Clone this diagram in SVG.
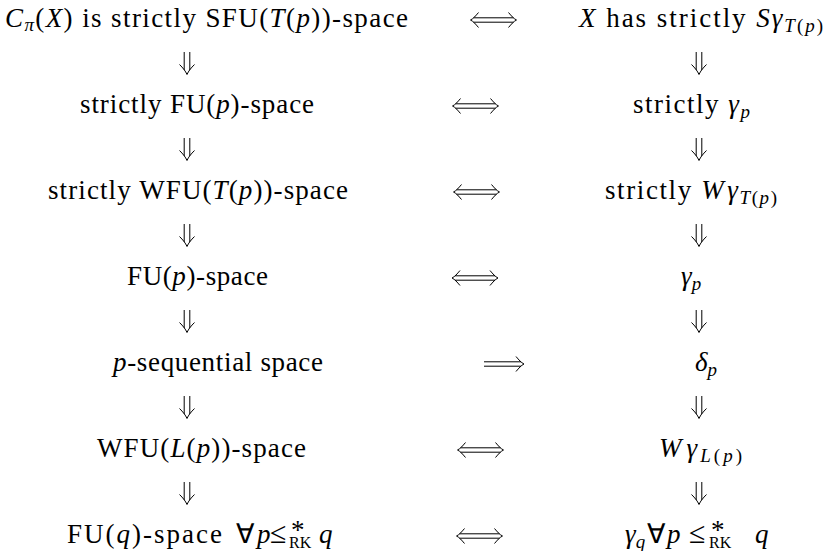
<svg xmlns="http://www.w3.org/2000/svg" xmlns:xlink="http://www.w3.org/1999/xlink" width="826" height="551" viewBox="0 0 826 551">
<style>
text { font-family: "Liberation Serif", serif; font-size: 27px; fill: #000; }
.i { font-style: italic; }
.sb { font-size: 19px; }
.rk { font-size: 16px; }
.le { font-size: 30px; }
.a { fill: none; stroke: #000; stroke-width: 1; stroke-linecap: butt; }
</style>
<defs>
  <g id="down">
    <path class="a" d="M -2.8,-11 V 7 M 2.8,-11 V 7"/>
    <path class="a" d="M -7.5,1.5 C -4,5 -1.5,8 0,11.5 C 1.5,8 4,5 7.5,1.5"/>
  </g>
  <g id="iff">
    <path class="a" d="M -20,-2.2 H 20 M -20,2.2 H 20"/>
    <path class="a" d="M -15,-7.5 C -18,-4 -20,-1.5 -23,0 C -20,1.5 -18,4 -15,7.5"/>
    <path class="a" d="M 15,-7.5 C 18,-4 20,-1.5 23,0 C 20,1.5 18,4 15,7.5"/>
  </g>
  <g id="imp">
    <path class="a" d="M -20,-2.2 H 17 M -20,2.2 H 17"/>
    <path class="a" d="M 12,-7.5 C 15,-4 17,-1.5 20,0 C 17,1.5 15,4 12,7.5"/>
  </g>
</defs>
<rect width="826" height="551" fill="#fff"/>

<g id="L1"><text x="5" y="27" textLength="403"><tspan class="i">C</tspan><tspan class="i sb" dy="4">π</tspan><tspan dy="-4">(</tspan><tspan class="i">X</tspan>) is strictly SFU(<tspan class="i">T</tspan>(<tspan class="i">p</tspan>))-space</text></g>
<g id="L2"><text x="80" y="113" textLength="234">strictly FU(<tspan class="i">p</tspan>)-space</text></g>
<g id="L3"><text x="48" y="199" textLength="300">strictly WFU(<tspan class="i">T</tspan>(<tspan class="i">p</tspan>))-space</text></g>
<g id="L4"><text x="127" y="285" textLength="141">FU(<tspan class="i">p</tspan>)-space</text></g>
<g id="L5"><text x="113" y="371" textLength="210"><tspan class="i">p</tspan>-sequential space</text></g>
<g id="L6"><text x="97" y="457" textLength="209">WFU(<tspan class="i">L</tspan>(<tspan class="i">p</tspan>))-space</text></g>
<g id="L7">
  <text x="67" y="543" textLength="155">FU(<tspan class="i">q</tspan>)-space</text>
  <text x="236" y="543">∀</text>
  <text class="i" x="257" y="543">p</text>
  <text class="le" x="270" y="543">≤</text>
  <text x="291" y="539" font-size="19">*</text>
  <text class="rk" x="289" y="548">RK</text>
  <text class="i" x="319" y="543">q</text>
</g>

<g id="R1"><text x="579" y="27" textLength="244"><tspan class="i">X</tspan> has strictly <tspan class="i">Sγ</tspan><tspan class="sb" dy="5"><tspan class="i">T</tspan>(<tspan class="i">p</tspan>)</tspan></text></g>
<g id="R2"><text x="633" y="113" textLength="117">strictly <tspan class="i">γ</tspan><tspan class="i sb" dy="5">p</tspan></text></g>
<g id="R3"><text x="605" y="199" textLength="172">strictly <tspan class="i">W</tspan><tspan class="i" dx="2">γ</tspan><tspan class="sb" dy="5"><tspan class="i">T</tspan>(<tspan class="i">p</tspan>)</tspan></text></g>
<g id="R4"><text x="681" y="285"><tspan class="i">γ</tspan><tspan class="i sb" dy="5">p</tspan></text></g>
<g id="R5"><text x="695" y="371"><tspan class="i">δ</tspan><tspan class="i sb" dy="5">p</tspan></text></g>
<g id="R6"><text x="659" y="457" textLength="83"><tspan class="i">W</tspan><tspan class="i" dx="2">γ</tspan><tspan class="sb" dy="5"><tspan class="i">L</tspan>(<tspan class="i">p</tspan>)</tspan></text></g>
<g id="R7">
  <text x="625" y="543"><tspan class="i">γ</tspan><tspan class="i sb" dy="5">q</tspan></text>
  <text x="647" y="543">∀</text>
  <text class="i" x="667" y="543">p</text>
  <text class="le" x="689" y="543">≤</text>
  <text x="711" y="539" font-size="19">*</text>
  <text class="rk" x="709" y="548">RK</text>
  <text class="i" x="755" y="543">q</text>
</g>

<g id="connectors">
  <use xlink:href="#iff" transform="translate(493.5,20)"/>
  <use xlink:href="#iff" transform="translate(475.5,106)"/>
  <use xlink:href="#iff" transform="translate(476.5,192)"/>
  <use xlink:href="#iff" transform="translate(475,278)"/>
  <use xlink:href="#imp" transform="translate(504,364)"/>
  <use xlink:href="#iff" transform="translate(480.5,450)"/>
  <use xlink:href="#iff" transform="translate(479.5,536)"/>
  <use xlink:href="#down" transform="translate(187,63)"/>
  <use xlink:href="#down" transform="translate(187,149)"/>
  <use xlink:href="#down" transform="translate(187,235)"/>
  <use xlink:href="#down" transform="translate(187,321)"/>
  <use xlink:href="#down" transform="translate(187,407)"/>
  <use xlink:href="#down" transform="translate(187,493)"/>
  <use xlink:href="#down" transform="translate(699,63)"/>
  <use xlink:href="#down" transform="translate(699,149)"/>
  <use xlink:href="#down" transform="translate(699,235)"/>
  <use xlink:href="#down" transform="translate(699,321)"/>
  <use xlink:href="#down" transform="translate(699,407)"/>
  <use xlink:href="#down" transform="translate(699,493)"/>
</g>
</svg>
